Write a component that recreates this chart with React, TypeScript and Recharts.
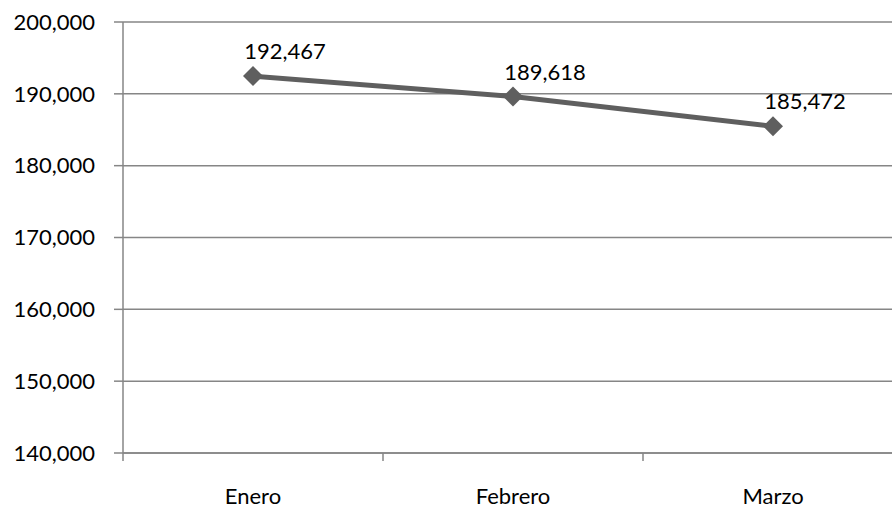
import { CartesianGrid, LabelList, Line, LineChart, XAxis, YAxis } from 'recharts'

const months = ['Enero', 'Febrero', 'Marzo']
const values = [192467, 189618, 185472]
const yTicks = [140000, 150000, 160000, 170000, 180000, 190000, 200000]

const data = months.map((month, i) => ({ month, value: values[i] }))

const FONT = 'Lato, "Open Sans", sans-serif'
const GRID = '#868686'
const LINE = '#5f5f5f'
const X_TICK_SIZE = 8
const X_TICK_MARGIN = 27

const fmt = (v: number) => v.toLocaleString('en-US')

function Diamond(props: any) {
  const { cx, cy } = props
  if (cx == null || cy == null) return null
  const r = 10
  return (
    <path
      d={`M${cx},${cy - r} L${cx + r},${cy} L${cx},${cy + r} L${cx - r},${cy} Z`}
      fill={LINE}
      stroke="none"
    />
  )
}

function ValueLabel(props: any) {
  const { x, y, value } = props
  return (
    <text
      x={x + 32}
      y={y - 17}
      textAnchor="middle"
      fontSize={22}
      fontFamily={FONT}
      fill="#000"
    >
      {fmt(value)}
    </text>
  )
}

// category label plus tick marks on the band edges (Excel style)
function MonthTick(props: any) {
  const { x, y, payload, index, visibleTicksCount } = props
  const half = payload.offset ?? 0
  const axisY = y - X_TICK_SIZE - X_TICK_MARGIN
  const last = index === visibleTicksCount - 1
  return (
    <g>
      <line x1={x - half} x2={x - half} y1={axisY} y2={axisY + X_TICK_SIZE} stroke={GRID} strokeWidth={1.5} />
      {last ? (
        <line x1={x + half} x2={x + half} y1={axisY} y2={axisY + X_TICK_SIZE} stroke={GRID} strokeWidth={1.5} />
      ) : null}
      <text x={x} y={y} dy="0.71em" textAnchor="middle" fontSize={22} fontFamily={FONT} fill="#000">
        {payload.value}
      </text>
    </g>
  )
}

export default function App() {
  return (
    <div
      style={{
        position: 'absolute',
        left: 0,
        top: 0,
        width: 892,
        height: 508,
        overflow: 'hidden',
        background: '#fff',
      }}
    >
      <LineChart
        width={910}
        height={508}
        data={data}
        margin={{ top: 22, right: 7, bottom: 0, left: 0 }}
      >
        <CartesianGrid vertical={false} stroke={GRID} strokeWidth={1.5} />
        <XAxis
          dataKey="month"
          scale="band"
          height={55}
          stroke={GRID}
          strokeWidth={1.5}
          tickLine={false}
          tickSize={X_TICK_SIZE}
          tickMargin={X_TICK_MARGIN}
          tick={<MonthTick />}
          interval={0}
        />
        <YAxis
          width={123}
          domain={[140000, 200000]}
          ticks={yTicks}
          tickFormatter={fmt}
          stroke={GRID}
          strokeWidth={1.5}
          tickSize={9}
          tickMargin={19}
          tick={{ fill: '#000', fontSize: 22, fontFamily: FONT }}
        />
        <Line
          type="linear"
          dataKey="value"
          stroke={LINE}
          strokeWidth={5}
          dot={<Diamond />}
          activeDot={false}
          isAnimationActive={false}
        >
          <LabelList dataKey="value" content={<ValueLabel />} />
        </Line>
      </LineChart>
    </div>
  )
}
